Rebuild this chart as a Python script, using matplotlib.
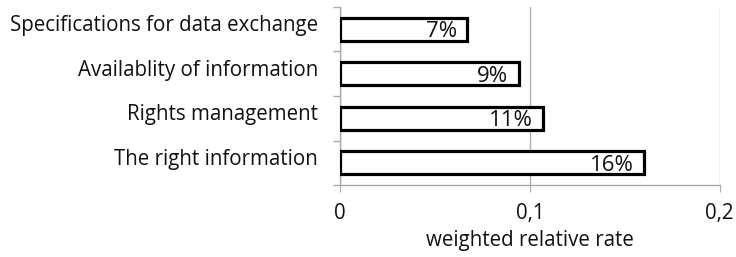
import matplotlib
matplotlib.use("Agg")
import matplotlib.pyplot as plt
from matplotlib.ticker import FixedLocator
from matplotlib.transforms import ScaledTranslation

categories = ["Specifications for data exchange", "Availablity of information",
              "Rights management", "The right information"]
values = [0.067, 0.094, 0.107, 0.160]
labels = ["7%", "9%", "11%", "16%"]
xticks = [0, 0.1, 0.2]
xtick_labels = ["0", "0,1", "0,2"]

plt.rcParams['font.family'] = ['Open Sans', 'DejaVu Sans']
fig = plt.figure(figsize=(7.36, 2.57), dpi=100)
ax = fig.add_axes([0.462, 0.280, 0.516, 0.693])

ypos = list(range(len(categories)))
ax.barh(ypos, values, height=0.52, color="white", edgecolor="black", linewidth=2.3, zorder=3)
for y, v, l in zip(ypos, values, labels):
    ax.text(v - 0.0055, y + 0.06, l, ha="right", va="center", fontsize=16, color="#111111", zorder=4)

ax.set_ylim(len(categories) - 0.5, -0.5)
ax.set_xlim(0, 0.2)
ax.set_yticks(ypos)
ax.set_yticklabels(categories, fontsize=14.8, color="#111111")
ax.tick_params(axis='y', length=0, pad=16)
offset = ScaledTranslation(0, 0.06, fig.dpi_scale_trans)
for lab in ax.get_yticklabels():
    lab.set_transform(lab.get_transform() + offset)
ax.yaxis.set_minor_locator(FixedLocator([-0.5, 0.5, 1.5, 2.5, 3.5]))
ax.tick_params(axis='y', which='minor', length=5, color="#aaaaaa", width=1)
ax.set_xticks(xticks)
ax.set_xticklabels(xtick_labels, fontsize=14.8, color="#111111")
ax.tick_params(axis='x', length=5, color="#aaaaaa", pad=8)
ax.xaxis.grid(True, color="#b0b0b0", linewidth=1, zorder=0)
for s in ["top", "right"]:
    ax.spines[s].set_visible(False)
for s in ["left", "bottom"]:
    ax.spines[s].set_color("#aaaaaa")
    ax.spines[s].set_linewidth(1)
ax.set_xlabel("weighted relative rate", fontsize=14.8, color="#111111", labelpad=4)

fig.savefig("out.png", dpi=100)
